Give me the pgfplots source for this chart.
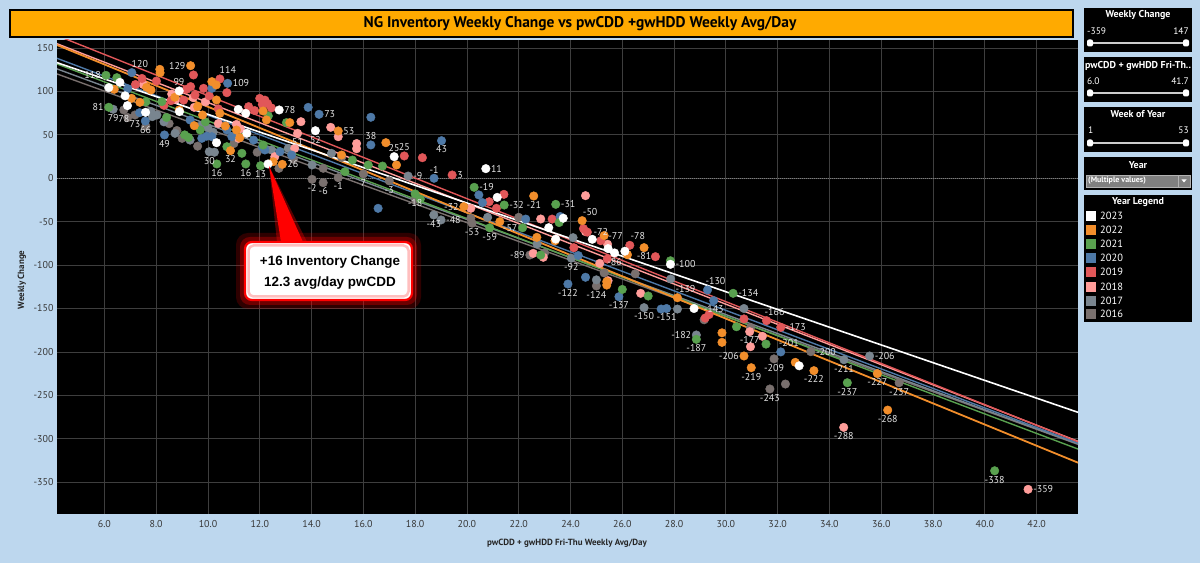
\documentclass[border=0pt]{standalone}
\usepackage{pgfplots}
\pgfplotsset{compat=1.18}
\usepackage{fontspec}
\setmainfont{PT Sans}
\newfontfamily\arialf{Liberation Sans}
\definecolor{bgblue}{RGB}{189,215,238}
\definecolor{titleor}{RGB}{255,170,0}
\definecolor{c23}{RGB}{255,255,255}
\definecolor{c22}{RGB}{242,142,43}
\definecolor{c21}{RGB}{89,161,79}
\definecolor{c20}{RGB}{78,121,167}
\definecolor{c19}{RGB}{225,87,89}
\definecolor{c18}{RGB}{255,157,154}
\definecolor{c17}{RGB}{121,133,143}
\definecolor{c16}{RGB}{121,112,110}
\definecolor{gridc}{RGB}{62,62,62}
\definecolor{labc}{RGB}{228,228,228}
\definecolor{tickc}{RGB}{55,55,55}
\definecolor{ddgray}{RGB}{125,125,125}

\begin{document}
\begin{tikzpicture}[x=1bp,y=1bp]
\path[use as bounding box] (0,0) rectangle (1200,563);
\fill[bgblue] (0,0) rectangle (1200,563);
% title bar
\draw[black, line width=2bp, fill=titleor] (10,526) rectangle (1073,553);
\node[font=\fontsize{15.5}{18}\selectfont\bfseries, text=black] at (580,539.5) {NG Inventory Weekly Change vs pwCDD +gwHDD Weekly Avg/Day};

\begin{axis}[at={(57bp,49bp)}, anchor=south west, scale only axis,
  width=1021bp, height=474bp,
  xmin=4.17, xmax=43.6, ymin=-386.7, ymax=159.3,
  axis background/.style={fill=black},
  axis line style={draw=none}, tick style={draw=none},
  grid=major, major grid style={draw=gridc, line width=0.8bp},
  xtick={6,8,...,42}, ytick={-350,-300,...,150},
  /pgf/number format/assume math mode=true,
  ticklabel style={font=\fontsize{10}{12}\selectfont, text=tickc},
  xticklabel style={yshift=-3bp, /pgf/number format/.cd, fixed, fixed zerofill, precision=1},
  yticklabel style={/pgf/number format/.cd, int detect},
  xlabel={pwCDD + gwHDD Fri-Thu Weekly Avg/Day},
  ylabel={Weekly Change},
  every axis x label/.style={at={(axis description cs:0.4995,-0.061)}, anchor=center, font=\fontsize{9}{11}\selectfont\bfseries, text=black!85},
  every axis y label/.style={at={(axis description cs:-0.0343,0.494)}, rotate=90, anchor=center, font=\fontsize{9}{11}\selectfont\bfseries, text=black!85},
  lab/.style={draw=none, mark=none, nodes near coords, point meta=explicit symbolic,
    every node near coord/.append style={anchor=#1, font=\fontsize{10}{12}\selectfont, text=labc, inner sep=5bp}},
  clip=true]
\draw[densely dotted, ddgray, line width=1bp] (axis cs:4.17,0) -- (axis cs:43.6,0);

% 2016
\addplot[only marks, mark=*, mark size=4.3, color=c16] table {
x y
6.75 78.7
6.90 70.0
7.18 72.9
7.60 60.0
8.50 63.0
8.80 55.0
9.00 46.0
9.60 37.0
11.00 40.0
11.90 30.0
12.74 11.5
13.30 22.0
14.02 -1.2
14.45 -5.0
14.45 11.5
15.03 0.7
15.16 24.0
16.00 5.0
17.00 -3.0
18.00 -24.0
20.15 -46.1
20.20 -51.8
22.00 -45.0
22.43 -88.4
23.00 -86.0
25.00 -124.0
25.30 -109.0
26.50 -110.0
29.16 -163.0
30.95 -172.0
31.70 -242.7
31.86 -208.0
32.30 -237.0
33.28 -199.7
36.69 -235.5
};
% 2017
\addplot[only marks, mark=*, mark size=4.3, color=c17] table {
x y
6.34 79.5
7.80 77.0
7.85 71.0
8.03 72.9
8.30 65.0
8.73 51.8
9.31 44.0
9.70 60.0
10.05 30.6
10.25 30.0
10.00 58.0
10.20 53.0
12.45 32.6
13.10 34.5
14.02 15.3
14.77 28.7
17.73 2.6
18.72 -42.3
19.00 -48.0
20.80 -45.0
22.71 -75.7
24.03 -92.0
24.10 -68.4
25.00 -117.0
26.84 -149.0
27.87 -116.0
28.13 -150.6
28.86 -180.5
30.70 -150.0
34.56 -209.0
35.55 -204.7
};
% 2018
\addplot[only marks, mark=*, mark size=4.3, color=c18] table {
x y
7.50 108.0
8.60 97.0
8.65 92.5
8.76 90.9
9.43 92.9
9.47 81.7
9.90 88.0
10.40 63.0
11.10 62.0
11.18 46.0
11.25 57.0
12.58 24.9
13.35 34.5
13.46 51.8
13.59 65.2
14.74 58.7
15.03 47.9
15.74 40.0
15.74 34.0
20.15 -34.6
22.56 -86.5
22.85 -46.9
22.95 -91.0
24.58 -20.0
24.58 -61.5
25.13 -98.0
25.43 -76.0
25.45 -118.0
26.71 -132.5
30.92 -176.7
31.41 -182.0
30.95 -194.0
34.55 -286.9
41.67 -358.3
};
% 2019
\addplot[only marks, mark=*, mark size=4.3, color=c19] table {
x y
7.45 115.0
7.20 108.0
8.01 112.0
9.44 119.0
9.17 102.5
9.33 105.6
9.50 96.0
9.83 103.6
10.05 95.0
10.46 114.4
10.73 98.6
9.06 90.0
8.57 89.4
8.30 84.0
10.40 80.0
11.57 82.5
11.80 78.0
12.00 92.0
12.20 90.0
12.30 86.0
12.10 85.0
12.45 81.0
17.58 25.7
18.28 23.7
19.43 3.8
20.86 -27.0
21.14 -34.6
21.43 -18.5
23.29 -47.0
24.13 -80.0
24.50 -58.0
24.65 -62.0
25.17 -71.9
25.42 -93.0
26.29 -77.2
27.28 -90.3
29.20 -161.0
29.35 -157.0
30.70 -162.0
31.57 -164.0
32.12 -171.7
};
% 2020
\addplot[only marks, mark=*, mark size=4.3, color=c20] table {
x y
6.90 103.0
7.06 121.7
7.36 75.6
7.58 66.0
8.32 49.9
9.31 67.1
9.76 46.0
9.95 48.5
10.15 103.6
10.15 47.9
10.73 55.6
10.76 109.4
10.92 48.0
11.76 44.0
12.10 36.0
12.20 32.6
12.78 30.7
13.23 26.8
13.87 81.7
14.29 73.7
16.29 70.3
16.29 38.4
16.57 -34.6
18.73 0.0
19.02 43.3
20.46 -19.2
20.60 -28.0
22.27 -47.0
23.60 -44.0
23.90 -121.8
24.30 -89.0
24.58 -114.0
25.87 -136.4
27.50 -150.6
27.71 -150.0
29.29 -128.7
29.53 -141.0
32.12 -200.0
};
% 2021
\addplot[only marks, mark=*, mark size=4.3, color=c21] table {
x y
6.06 118.6
6.48 115.9
6.17 81.8
7.60 88.0
8.22 88.3
8.40 70.0
9.10 50.0
9.25 47.0
9.70 55.6
9.90 65.0
10.34 16.5
10.73 36.4
11.31 28.8
11.46 16.5
12.03 14.5
12.13 38.3
12.33 71.8
13.03 64.1
15.29 7.6
15.58 21.0
16.19 15.3
16.74 14.1
18.00 -18.0
18.20 -24.0
20.28 -10.4
20.88 -57.0
21.44 -30.8
22.15 -57.0
22.85 -88.4
23.43 -30.0
23.56 -51.0
26.00 -128.0
27.00 -135.6
27.86 -95.0
28.86 -185.5
30.28 -132.5
30.41 -171.0
31.55 -191.0
34.69 -235.5
40.38 -336.9
};
% 2022
\addplot[only marks, mark=*, mark size=4.3, color=c22] table {
x y
6.38 102.5
7.05 92.1
7.37 87.5
7.63 104.8
7.80 101.7
8.14 125.5
8.15 121.5
8.72 93.3
8.89 78.7
9.33 129.7
9.47 60.6
9.60 82.5
9.79 72.9
10.15 111.3
10.32 107.5
10.33 90.2
10.46 74.8
10.67 60.2
10.87 31.8
11.10 55.6
11.23 46.8
12.13 77.5
12.26 67.2
12.52 19.1
12.87 16.1
13.16 64.1
15.03 54.5
15.16 26.8
16.87 41.0
17.28 15.3
19.88 -32.7
21.27 -50.0
22.58 -20.4
22.70 -68.0
23.40 -72.0
24.45 -48.8
25.30 -66.0
25.40 -119.0
25.40 -123.0
26.20 -88.0
26.84 -79.9
28.13 -137.6
29.85 -178.0
29.85 -189.0
30.70 -204.7
30.98 -218.2
32.68 -212.0
33.40 -221.6
35.85 -225.0
36.25 -267.0
};
% 2023
\addplot[only marks, mark=*, mark size=4.3, color=c23] table {
x y
6.17 104.4
6.60 110.5
6.80 95.0
6.89 83.7
7.59 76.0
8.89 100.6
8.90 76.8
10.33 41.0
11.17 79.4
11.46 74.8
11.50 51.8
12.32 16.5
12.75 78.7
14.15 54.8
17.19 24.9
20.73 11.1
21.17 -22.0
23.16 -56.9
23.43 -70.0
23.72 -46.0
24.84 -70.3
25.45 -81.0
25.70 -86.0
26.10 -84.0
27.86 -99.1
28.77 -150.0
32.83 -216.0
};

% trend lines
\addplot[c16, line width=1.4bp] coordinates {(4.17,120.2) (43.6,-306.5)};
\addplot[c17, line width=1.4bp] coordinates {(4.17,126.0) (43.6,-306.0)};
\addplot[c18, line width=1.4bp] coordinates {(4.17,155.0) (43.6,-303.0)};
\addplot[c20, line width=1.4bp] coordinates {(4.17,138.2) (43.6,-305.0)};
\addplot[c21, line width=1.4bp] coordinates {(4.17,131.7) (43.6,-311.9)};
\addplot[c19, line width=1.4bp] coordinates {(4.17,164.4) (43.6,-303.5)};
\addplot[c22, line width=1.8bp] coordinates {(4.17,153.5) (43.6,-327.6)};
\addplot[c23, line width=1.6bp] coordinates {(4.17,133.2) (43.6,-269.6)};

% data labels: to the right of the point
\addplot[lab=west] table[meta=t] {
x y t
10.76 109.4 109
12.75 78.7 78
12.87 16.1 26
14.29 73.7 73
15.03 54.5 53
17.73 2.6 -9
19.43 3.8 3
20.73 11.1 11
20.28 -10.4 -19
19.00 -48.0 -48
21.44 -30.8 -32
23.43 -30.0 -31
27.86 -99.1 -100
30.28 -132.5 -134
32.12 -171.7 -173
33.28 -199.7 -200
35.55 -204.7 -206
41.67 -358.3 -359
};
% labels to the left of the point
\addplot[lab=east] table[meta=t] {
x y t
6.06 118.6 118
9.33 129.7 129
6.17 81.8 81
19.88 -32.7 -32
22.15 -57.0 -57
22.43 -88.4 -89
28.86 -180.5 -182
30.70 -204.7 -206
};
% labels above the point
\addplot[lab=south] table[meta=t] {
x y t
8.88 100.6 99
16.29 38.4 38
17.19 24.9 25
17.58 25.7 25
18.73 0.0 -1
25.17 -71.9 -72
};
% labels above and to the right of the point
\addplot[lab=south, every node near coord/.append style={xshift=8bp}] table[meta=t] {
x y t
7.06 121.7 120
10.46 114.4 114
24.45 -48.8 -50
25.43 -76.0 -77
26.29 -77.2 -78
29.29 -128.7 -130
28.13 -137.6 -139
31.57 -164.0 -166
32.12 -200.0 -201
};
% labels below the point
\addplot[lab=north] table[meta=t] {
x y t
6.34 79.5 79
6.75 78.7 78
7.18 72.9 73
7.59 66.0 66
8.32 49.9 49
10.05 30.6 30
10.34 16.5 16
10.87 31.8 32
11.46 16.5 16
12.03 14.5 13
13.46 51.8 51
14.15 54.8 52
14.02 -1.2 -2
14.45 -5.0 -6
15.03 0.7 -1
16.00 5.0 7
17.00 -3.0 -3
19.02 43.3 43
18.00 -18.0 -18
18.72 -42.3 -43
20.20 -51.8 -53
20.88 -57.0 -59
22.58 -20.4 -21
26.84 -79.9 -81
25.70 -86.0 -86
24.03 -92.0 -92
23.90 -121.8 -122
25.00 -124.0 -124
25.87 -136.4 -137
29.53 -141.0 -143
26.84 -149.0 -150
27.71 -150.0 -151
28.86 -185.5 -187
30.92 -176.7 -177
30.98 -218.2 -219
31.86 -208.0 -209
31.70 -242.7 -243
33.40 -221.6 -222
34.56 -209.0 -211
34.69 -235.5 -237
35.85 -225.0 -227
36.69 -235.5 -237
36.25 -267.0 -268
34.55 -286.9 -288
40.38 -336.9 -338
};
\end{axis}

% callout
\fill[red, opacity=0.18, rounded corners=12] (236,254) rectangle (421,330);
\fill[red, opacity=0.3, rounded corners=10] (240,258) rectangle (417,326);
\fill[red, opacity=0.35] (269,397) -- (277,321) -- (307,321) -- cycle;
\fill[red] (269,397) -- (281,321) -- (303,321) -- cycle;
\draw[red, line width=2.2bp, fill=white, rounded corners=7] (245,263) rectangle (412,321);
\draw[red!25, line width=2.5bp, rounded corners=5] (248.5,266.5) rectangle (408.5,317.5);
\node[font=\arialf\fontsize{13.5}{15}\selectfont\bfseries, text=black] at (330,301) {+16 Inventory Change};
\node[font=\arialf\fontsize{13.5}{15}\selectfont\bfseries, text=black] at (330,280) {12.3 avg/day pwCDD};

% right panel
\tikzset{ptitle/.style={font=\fontsize{10}{12}\selectfont\bfseries, text=white},
         pval/.style={font=\fontsize{9.5}{11}\selectfont, text=white}}
\fill[black] (1084,511) rectangle (1192,555);
\node[ptitle] at (1138,548) {Weekly Change};
\node[pval, anchor=west, inner sep=0] at (1087,532) {-359};
\node[pval, anchor=east, inner sep=0] at (1189,532) {147};
\draw[white!80!black, line width=1.5bp] (1090,520) -- (1186,520);
\fill[white, rounded corners=2] (1087,516.5) rectangle (1093,523.5);
\fill[white, rounded corners=2] (1183,516.5) rectangle (1189,523.5);
\fill[black] (1084,461) rectangle (1192,506);
\node[ptitle] at (1138,497) {pwCDD + gwHDD Fri-Th..};
\node[pval, anchor=west, inner sep=0] at (1087,482) {6.0};
\node[pval, anchor=east, inner sep=0] at (1189,482) {41.7};
\draw[white!80!black, line width=1.5bp] (1090,470) -- (1186,470);
\fill[white, rounded corners=2] (1087,466.5) rectangle (1093,473.5);
\fill[white, rounded corners=2] (1183,466.5) rectangle (1189,473.5);
\fill[black] (1084,411) rectangle (1192,456);
\node[ptitle] at (1138,449) {Week of Year};
\node[pval, anchor=west, inner sep=0] at (1088,433) {1};
\node[pval, anchor=east, inner sep=0] at (1189,433) {53};
\draw[white!80!black, line width=1.5bp] (1090,420) -- (1186,420);
\fill[white, rounded corners=2] (1087,416.5) rectangle (1093,423.5);
\fill[white, rounded corners=2] (1183,416.5) rectangle (1189,423.5);
\fill[black] (1084,373) rectangle (1192,406);
\node[ptitle] at (1138,398) {Year};
\draw[white!70!black, fill=black!50, line width=0.6bp] (1086,376) rectangle (1190,388);
\node[font=\fontsize{8}{10}\selectfont\bfseries, text=white, anchor=west, inner sep=0] at (1088,382) {(Multiple values)};
\draw[white!70!black, line width=0.6bp] (1178,376) -- (1178,388);
\fill[white] (1181.5,383.5) -- (1186.5,383.5) -- (1184,380.5) -- cycle;
\fill[black] (1084,241) rectangle (1192,368);
\node[ptitle] at (1138,361) {Year Legend};
\foreach \c/\yy/\lab in {c23/347/2023, c22/333/2022, c21/319/2021, c20/305/2020, c19/291/2019, c18/276/2018, c17/262/2017, c16/249/2016}{
  \fill[\c] (1086,\yy-5) rectangle (1096,\yy+5);
  \node[font=\fontsize{10.5}{12}\selectfont, text=white, anchor=west, inner sep=0] at (1100,\yy) {\lab};
}
\end{tikzpicture}
\end{document}
